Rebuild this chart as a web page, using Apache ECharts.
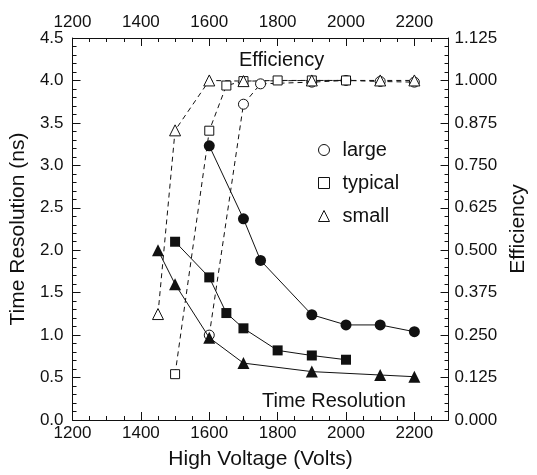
<!DOCTYPE html>
<html>
<head>
<meta charset="utf-8">
<script src="https://cdn.jsdelivr.net/npm/echarts@6/dist/echarts.min.js"></script>
<style>html,body{margin:0;padding:0;background:#fff;}#c{width:537px;height:475px;}</style>
</head>
<body>
<div id="c"></div>
<script>
// Data
const largeVolts   = [1600, 1700, 1750, 1900, 2000, 2100, 2200];
const largeTime    = [3.23, 2.37, 1.88, 1.24, 1.12, 1.12, 1.04];
const largeEff     = [0.25, 0.93, 0.99, 0.995, 1.0, 0.997, 0.995];

const typicalVolts = [1500, 1600, 1650, 1700, 1800, 1900, 2000];
const typicalTime  = [2.10, 1.68, 1.26, 1.08, 0.82, 0.76, 0.71];
const typicalEff   = [0.135, 0.852, 0.985, 0.998, 1.0, 1.0, 1.0];

const smallVolts   = [1450, 1500, 1600, 1700, 1900, 2100, 2200];
const smallTime    = [2.00, 1.60, 0.97, 0.67, 0.57, 0.53, 0.51];
const smallEff     = [0.312, 0.853, 1.0, 0.998, 1.0, 1.0, 1.0];

const legendNames  = ['large', 'typical', 'small'];
const legendIcons  = ['circle', 'rect', 'triangle'];

const xMin = 1200, xMax = 2300, xStep = 200, xMinorStep = 50;
const yMin = 0, yMax = 4.5, yStep = 0.5;
const effMin = 0, effMax = 1.125, effStep = 0.125;

const FONT = '"Liberation Sans", Arial, Helvetica, sans-serif';
const INK = '#111';

function pairs(xs, ys) { return xs.map((x, i) => [x, ys[i]]); }

function majorX(pos, withName) {
  return {
    type: 'value', position: pos, min: xMin, max: xMax, interval: xStep,
    axisLine: { show: true, onZero: false, lineStyle: { color: INK, width: 1 } },
    axisTick: { show: true, inside: true, length: 8, lineStyle: { color: INK, width: 1 } },
    axisLabel: { show: true, margin: pos === 'top' ? 7 : 5, fontSize: 17, fontFamily: FONT, color: INK,
      formatter: v => (v === xMax ? '' : String(v)) },
    splitLine: { show: false },
    name: withName ? 'High Voltage (Volts)' : '', nameLocation: 'middle', nameGap: 29,
    nameTextStyle: { fontSize: 21, fontFamily: FONT, color: INK }
  };
}
function minorX(pos) {
  return {
    type: 'value', position: pos, min: xMin, max: xMax, interval: xMinorStep,
    axisLine: { show: false, onZero: false },
    axisTick: { show: true, inside: true, length: 4, lineStyle: { color: INK, width: 1 } },
    axisLabel: { show: false }, splitLine: { show: false }
  };
}

const openSize = { circle: 10, rect: 9, triangle: 11 };
const filledSize = { circle: 11, rect: 10, triangle: 12 };

function timeSeries(name, xs, ys, sym) {
  return {
    name: name, type: 'line', xAxisIndex: 0, yAxisIndex: 0,
    data: pairs(xs, ys), symbol: sym, symbolSize: filledSize[sym],
    lineStyle: { color: INK, width: 1, type: 'solid' },
    itemStyle: { color: INK, borderColor: INK, borderWidth: 0 },
    z: 3, animation: false
  };
}
function effSeries(name, xs, ys, sym) {
  return {
    name: name, type: 'line', xAxisIndex: 0, yAxisIndex: 1,
    data: pairs(xs, ys), symbol: sym, symbolSize: openSize[sym],
    showAllSymbol: true,
    lineStyle: { color: INK, width: 1, type: [5, 4] },
    itemStyle: { color: '#fff', borderColor: INK, borderWidth: 1 },
    z: 2, animation: false
  };
}

const chart = echarts.init(document.getElementById('c'), null, { renderer: 'canvas' });
chart.setOption({
  backgroundColor: '#fff',
  animation: false,
  grid: { left: 72, right: 77, top: 38, bottom: 46, containLabel: false },
  xAxis: [ majorX('bottom', true), majorX('top', false), minorX('bottom'), minorX('top') ],
  yAxis: [
    {
      type: 'value', position: 'left', min: yMin, max: yMax, interval: yStep,
      axisLine: { show: true, onZero: false, lineStyle: { color: INK, width: 1 } },
      axisTick: { show: true, inside: true, length: 8, lineStyle: { color: INK } },
      minorTick: { show: true, splitNumber: 5, length: 4, lineStyle: { color: INK } },
      axisLabel: { margin: 9, fontSize: 17, fontFamily: FONT, color: INK, formatter: v => v.toFixed(1) },
      splitLine: { show: false },
      name: 'Time Resolution (ns)', nameLocation: 'middle', nameGap: 40,
      nameTextStyle: { fontSize: 21, fontFamily: FONT, color: INK }
    },
    {
      type: 'value', position: 'right', min: effMin, max: effMax, interval: effStep,
      axisLine: { show: true, onZero: false, lineStyle: { color: INK, width: 1 } },
      axisTick: { show: true, inside: true, length: 8, lineStyle: { color: INK } },
      minorTick: { show: true, splitNumber: 5, length: 4, lineStyle: { color: INK } },
      axisLabel: { margin: 6, fontSize: 17, fontFamily: FONT, color: INK, formatter: v => v.toFixed(3) },
      splitLine: { show: false },
      name: 'Efficiency', nameLocation: 'middle', nameGap: 56,
      nameTextStyle: { fontSize: 21, fontFamily: FONT, color: INK }
    }
  ],
  legend: {
    orient: 'vertical', left: 318, top: 140, padding: 0,
    itemWidth: 11, itemHeight: 11, itemGap: 13, selectedMode: false,
    textStyle: { fontSize: 20, fontFamily: FONT, color: INK, padding: [0, 0, 0, 8] },
    data: legendNames.map((n, i) => ({
      name: n, icon: legendIcons[i],
      itemStyle: { color: '#fff', borderColor: INK, borderWidth: 1 }
    }))
  },
  graphic: [
    { type: 'text', left: 239, top: 50, style: { text: 'Efficiency', font: '20px ' + FONT, fill: INK } },
    { type: 'text', left: 262, top: 391, style: { text: 'Time Resolution', font: '20px ' + FONT, fill: INK } }
  ],
  series: [
    effSeries(legendNames[0], largeVolts, largeEff, 'circle'),
    effSeries(legendNames[1], typicalVolts, typicalEff, 'rect'),
    effSeries(legendNames[2], smallVolts, smallEff, 'triangle'),
    timeSeries('large time', largeVolts, largeTime, 'circle'),
    timeSeries('typical time', typicalVolts, typicalTime, 'rect'),
    timeSeries('small time', smallVolts, smallTime, 'triangle')
  ]
});
</script>
</body>
</html>
